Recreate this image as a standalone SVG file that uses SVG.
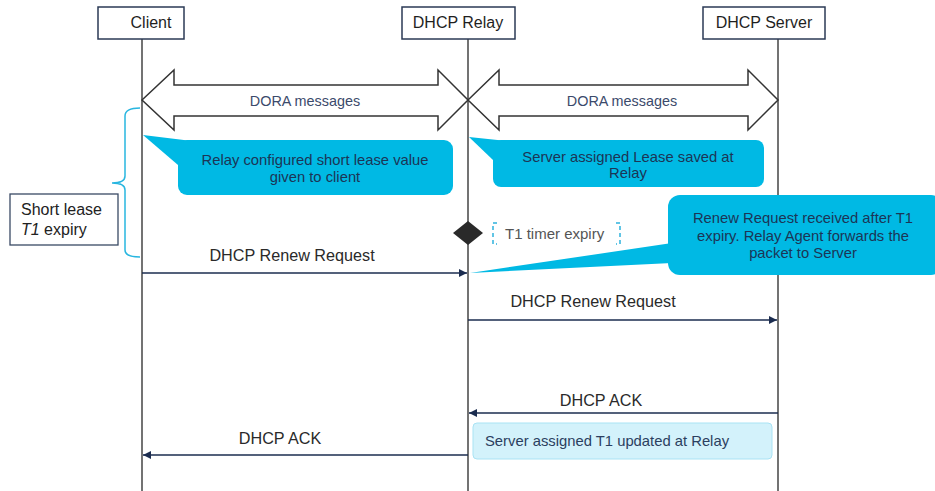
<svg xmlns="http://www.w3.org/2000/svg" width="935" height="491" viewBox="0 0 935 491">
<defs>
<style>
.hdr{fill:#fff;stroke:#2b3a55;stroke-width:1.5}
.ht{font-family:"Liberation Sans",Arial,sans-serif;font-size:16px;fill:#1f1f1f;text-anchor:middle}
.life{stroke:#444;stroke-width:1.5;fill:none}
.dora{fill:#fff;stroke:#333;stroke-width:1.5}
.dt{font-family:"Liberation Sans",Arial,sans-serif;font-size:14.4px;fill:#3b4a6b;text-anchor:middle}
.call{fill:#00b9e4}
.ct{font-family:"Liberation Sans",Arial,sans-serif;font-size:14.8px;fill:#1c3556;text-anchor:middle}
.msg{stroke:#1b2c4f;stroke-width:1.5;fill:none;marker-end:url(#ah)}
.mt{font-family:"Liberation Sans",Arial,sans-serif;font-size:16.2px;fill:#2a2a2a;text-anchor:middle}
.brk{stroke:#29b6e0;stroke-width:1.5;fill:none}
</style>
<marker id="ah" viewBox="0 0 10 10" refX="10" refY="5" markerWidth="8" markerHeight="8" markerUnits="userSpaceOnUse" orient="auto">
<path d="M0,0 L10,5 L0,10 Z" fill="#1b2c4f"/>
</marker>
</defs>

<g id="lifelines">
<line class="life" x1="142" y1="39" x2="142" y2="491"/>
<line class="life" x1="468" y1="39" x2="468" y2="491"/>
<line class="life" x1="778" y1="39" x2="778" y2="491"/>
</g>

<g id="client">
<rect class="hdr" x="98" y="7" width="86" height="32"/>
<text class="ht" x="151" y="28">Client</text>
</g>
<g id="relay">
<rect class="hdr" x="402" y="7" width="113" height="32"/>
<text class="ht" x="458" y="28">DHCP Relay</text>
</g>
<g id="server">
<rect class="hdr" x="703" y="7" width="122" height="32"/>
<text class="ht" x="764" y="28">DHCP Server</text>
</g>

<g id="dora1">
<path class="dora" d="M142,100 L174,70 L174,85 L438,85 L438,70 L468,100 L438,130 L438,116 L174,116 L174,130 Z"/>
<text class="dt" x="305" y="106">DORA messages</text>
</g>
<g id="dora2">
<path class="dora" d="M468,100 L499,70 L499,85 L748,85 L748,70 L778,100 L748,130 L748,116 L499,116 L499,130 Z"/>
<text class="dt" x="622" y="106">DORA messages</text>
</g>

<g id="callout1">
<path class="call" d="M143,135 L192,141 L178,165 Z"/>
<rect class="call" x="178" y="140" width="275" height="55" rx="9"/>
<text class="ct" x="315" y="165">Relay configured short lease value</text>
<text class="ct" x="315" y="182">given to client</text>
</g>
<g id="callout2">
<path class="call" d="M469,137 L507,141 L493,160 Z"/>
<rect class="call" x="493" y="140" width="271" height="47" rx="8"/>
<text class="ct" x="628" y="162">Server assigned Lease saved at</text>
<text class="ct" x="628" y="178">Relay</text>
</g>
<g id="callout3">
<path class="call" d="M470,273 L672,243 L672,263 Z"/>
<rect class="call" x="668" y="195" width="275" height="80" rx="12"/>
<text class="ct" x="803" y="223">Renew Request received after T1</text>
<text class="ct" x="803" y="241">expiry. Relay Agent forwards the</text>
<text class="ct" x="803" y="258">packet to Server</text>
</g>

<g id="shortlease">
<rect x="10" y="194" width="108" height="51" fill="#fff" stroke="#3a4a65" stroke-width="1.3"/>
<text font-family="'Liberation Sans',Arial,sans-serif" font-size="16" fill="#222" x="21" y="215">Short lease</text>
<text font-family="'Liberation Sans',Arial,sans-serif" font-size="16" fill="#222" x="21" y="235"><tspan font-style="italic">T1</tspan> expiry</text>
<path class="brk" d="M140,108 Q125,108 125,116 L125,176 Q125,183 112,183 Q125,183 125,190 L125,250 Q125,257 140,257"/>
</g>

<g id="t1timer">
<path d="M468,221 L483,233 L468,245 L453,233 Z" fill="#2a2a2a"/>
<path d="M497,223 L493,223 L493,244 L497,244" fill="none" stroke="#2fb3dd" stroke-width="1.5" stroke-dasharray="4,3"/>
<path d="M616,223 L620,223 L620,244 L616,244" fill="none" stroke="#2fb3dd" stroke-width="1.5" stroke-dasharray="4,3"/>
<text font-family="'Liberation Sans',Arial,sans-serif" font-size="15" fill="#555" x="505" y="239">T1 timer expiry</text>
</g>

<g id="connectors">
<line class="msg" x1="142" y1="273" x2="467" y2="273"/>
<line class="msg" x1="468" y1="320" x2="777" y2="320"/>
<line class="msg" x1="778" y1="413" x2="469" y2="413"/>
<line class="msg" x1="468" y1="455" x2="143" y2="455"/>
</g>
<g id="labels">
<text class="mt" x="292" y="261">DHCP Renew Request</text>
<text class="mt" x="593" y="307">DHCP Renew Request</text>
<text class="mt" x="601" y="406">DHCP ACK</text>
<text class="mt" x="280" y="444">DHCP ACK</text>
</g>

<g id="t1updated">
<rect x="473" y="423" width="299" height="36" rx="4" fill="#d3f2fb" stroke="#a9e3f4" stroke-width="1"/>
<text font-family="'Liberation Sans',Arial,sans-serif" font-size="14.8" fill="#2b3f60" x="485" y="446">Server assigned T1 updated at Relay</text>
</g>
</svg>
